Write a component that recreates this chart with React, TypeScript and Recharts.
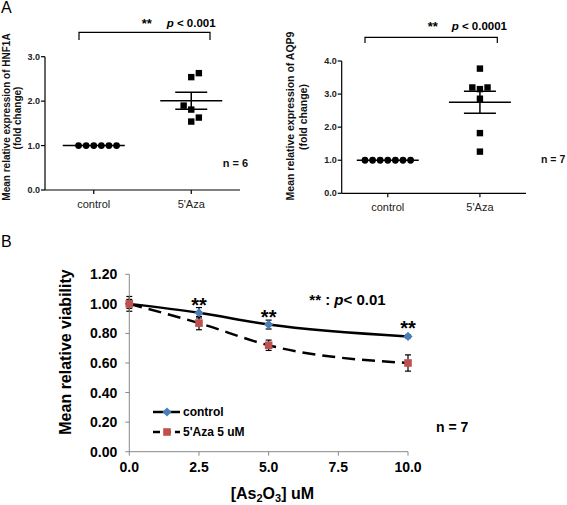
import React from 'react';
import {
    ScatterChart,
    Scatter,
    LineChart,
    Line,
    XAxis,
    YAxis,
    ErrorBar,
    LabelList,
    Legend
} from 'recharts';

// panel A: fold change per sample
const groups = ['control', "5'Aza"];
const hnf1aControl = [1.0, 1.0, 1.0, 1.0, 1.0, 1.0];
const hnf1aAza = [2.54, 2.63, 1.9, 1.81, 1.54, 1.63];
const aqp9Control = [1.0, 1.0, 1.0, 1.0, 1.0, 1.0, 1.0];
const aqp9Aza = [3.77, 3.2, 3.15, 3.2, 2.86, 1.82, 1.26];

// panel B: viability vs As2O3 dose
const doses = [0, 2.5, 5, 10];
const doseTicks = [0, 2.5, 5, 7.5, 10];
const controlViability = [1.0, 0.94, 0.86, 0.78];
const controlSem = [0.05, 0.035, 0.03, 0.01];
const azaViability = [1.0, 0.87, 0.72, 0.6];
const azaSem = [0.03, 0.045, 0.035, 0.055];
const significance = ['', '**', '**', '**'];
const viabilityTicks = [0, 0.2, 0.4, 0.6, 0.8, 1.0, 1.2];
const seriesOrder = ['control', 'aza'];

const FONT = '"Liberation Sans", Arial, sans-serif';
const BLUE = '#4a7ebb';
const RED = '#c0504d';

const mean = (v: number[]) => v.reduce((a, b) => a + b, 0) / v.length;
const sem = (v: number[]) => {
    const m = mean(v);
    const sd = Math.sqrt(v.reduce((a, b) => a + (b - m) ** 2, 0) / (v.length - 1));
    return sd / Math.sqrt(v.length);
};

// simple beeswarm: points that would overlap get pushed sideways, alternating sides
const swarm = (values: number[], center: number, pxPerY: number, stepX: number, size: number) => {
    const sorted = [...values].sort((a, b) => a - b);
    const placed: { v: number; k: number }[] = [];
    let side = 1;
    sorted.forEach((v) => {
        const free = (k: number) => !placed.some(p => p.k === k && Math.abs(p.v - v) * pxPerY < size);
        let k = 0;
        if (!free(0)) {
            for (let d = 1; d < 12; d++) {
                if (free(side * d)) { k = side * d; break; }
                if (free(-side * d)) { k = -side * d; break; }
            }
            side = -side;
        }
        placed.push({ v, k });
    });
    return placed.map(p => ({ x: center + p.k * stepX, y: p.v }));
};

interface ScatterPanelProps {
    left: number;
    width: number;
    height: number;
    yAxisWidth: number;
    marginTop: number;
    marginRight: number;
    xAxisHeight: number;
    yMax: number;
    control: number[];
    treated: number[];
}

const ScatterPanel: React.FC<ScatterPanelProps> = ({
    left, width, height, yAxisWidth, marginTop, marginRight, xAxisHeight, yMax, control, treated
}) => {
    const plotW = width - yAxisWidth - marginRight;
    const plotH = height - marginTop - xAxisHeight;
    const pxPerY = plotH / yMax;
    const step = 7.6 * 2 / plotW;

    const controlPts = swarm(control, 1, pxPerY, step, 6.5);
    const treatedPts = swarm(treated, 2, pxPerY, step, 6.5);
    const summary = [
        { x: 1, y: mean(control), err: sem(control) },
        { x: 2, y: mean(treated), err: sem(treated) }
    ];
    const yTicks = Array.from({ length: yMax + 1 }, (_, i) => i);

    return (
        <div style={{ position: 'absolute', left, top: 0 }}>
            <ScatterChart
                width={width}
                height={height}
                margin={{ top: marginTop, right: marginRight, bottom: 0, left: 0 }}
            >
                <XAxis
                    type="number"
                    dataKey="x"
                    domain={[0.5, 2.5]}
                    ticks={[1, 2]}
                    interval={0}
                    allowDataOverflow
                    tickFormatter={(v) => groups[v - 1]}
                    height={xAxisHeight}
                    stroke="#000"
                    strokeWidth={1.2}
                    tickSize={4}
                    tickMargin={6}
                    tick={{ fill: '#222', fontSize: 11 }}
                />
                <YAxis
                    type="number"
                    dataKey="y"
                    domain={[0, yMax]}
                    ticks={yTicks}
                    width={yAxisWidth}
                    stroke="#000"
                    strokeWidth={1.2}
                    tickSize={4}
                    tickMargin={1}
                    tickFormatter={(v) => v.toFixed(1)}
                    tick={{ fill: '#222', fontSize: 9, fontWeight: 'bold' }}
                />
                <Scatter
                    data={controlPts}
                    isAnimationActive={false}
                    shape={(p: any) => <circle cx={p.cx} cy={p.cy} r={3.4} fill="#000" />}
                />
                <Scatter
                    data={treatedPts}
                    isAnimationActive={false}
                    shape={(p: any) => <rect x={p.cx - 3.2} y={p.cy - 3.2} width={6.4} height={6.4} fill="#000" />}
                />
                <Scatter
                    data={summary}
                    isAnimationActive={false}
                    shape={(p: any) => (
                        <line x1={p.cx - 31} x2={p.cx + 31} y1={p.cy} y2={p.cy} stroke="#000" strokeWidth={1.5} />
                    )}
                >
                    <ErrorBar dataKey="err" direction="y" width={16} stroke="#000" strokeWidth={1.5} />
                </Scatter>
            </ScatterChart>
        </div>
    );
};

const viabilityRows = doses.map((d, i) => ({
    dose: d,
    control: controlViability[i],
    controlSem: controlSem[i],
    aza: azaViability[i],
    azaSem: azaSem[i],
    sig: significance[i]
}));

const Diamond = (p: any) => {
    const r = 4.6;
    return (
        <polygon
            key={`d-${p.index}`}
            points={`${p.cx},${p.cy - r} ${p.cx + r},${p.cy} ${p.cx},${p.cy + r} ${p.cx - r},${p.cy}`}
            fill={BLUE}
        />
    );
};

const Square = (p: any) => (
    <rect key={`s-${p.index}`} x={p.cx - 3.8} y={p.cy - 3.8} width={7.6} height={7.6} fill={RED} />
);

const renderLegend = (props: any) => {
    const items = [...(props.payload || [])].sort(
        (a: any, b: any) => seriesOrder.indexOf(a.dataKey) - seriesOrder.indexOf(b.dataKey)
    );
    return (
        <div style={{ display: 'flex', flexDirection: 'column', fontFamily: FONT }}>
            {items.map((entry: any) => {
                const dashed = entry.dataKey === 'aza';
                return (
                    <div key={entry.dataKey} style={{ display: 'flex', alignItems: 'center', height: 20 }}>
                        <svg width={30} height={20}>
                            <line
                                x1={1} x2={28} y1={10} y2={10}
                                stroke="#000" strokeWidth={2.5}
                                strokeDasharray={dashed ? '7 4' : undefined}
                            />
                            {dashed
                                ? <rect x={11.2} y={6.2} width={7.6} height={7.6} fill={RED} />
                                : <polygon points="15,5.4 19.6,10 15,14.6 10.4,10" fill={BLUE} />}
                        </svg>
                        <span style={{ fontSize: 12, fontWeight: 'bold', color: '#000', marginLeft: 1 }}>{entry.value}</span>
                    </div>
                );
            })}
        </div>
    );
};

const ViabilityPanel: React.FC = () => (
    <div style={{ position: 'absolute', left: 0, top: 230 }}>
        <LineChart
            width={567}
            height={275}
            data={viabilityRows}
            margin={{ top: 44.3, right: 159, bottom: 0, left: 0 }}
        >
            <XAxis
                type="number"
                dataKey="dose"
                domain={[0, 10]}
                ticks={doseTicks}
                interval={0}
                tickFormatter={(v) => v.toFixed(1)}
                height={53.3}
                stroke="#888"
                tickSize={4}
                tickMargin={6}
                tick={{ fill: '#000', fontSize: 14, fontWeight: 'bold' }}
            />
            <YAxis
                type="number"
                domain={[0, 1.2]}
                ticks={viabilityTicks}
                interval={0}
                tickFormatter={(v) => v.toFixed(2)}
                width={129.3}
                stroke="#888"
                tickSize={4}
                tickMargin={8}
                tick={{ fill: '#000', fontSize: 14, fontWeight: 'bold' }}
            />
            <Legend
                layout="vertical"
                align="center"
                verticalAlign="middle"
                content={renderLegend}
                wrapperStyle={{ left: 152, top: 171.7, width: 'auto' }}
            />
            <Line
                name="control"
                dataKey="control"
                type="monotone"
                stroke="#000"
                strokeWidth={2.5}
                dot={Diamond}
                activeDot={false}
                isAnimationActive={false}
            >
                <ErrorBar dataKey="controlSem" width={3} stroke="#000" strokeWidth={1.2} />
                <LabelList
                    dataKey="sig"
                    position="top"
                    offset={1}
                    style={{ fontSize: 20, fontWeight: 'bold', fill: '#000' }}
                />
            </Line>
            <Line
                name="5'Aza 5 uM"
                dataKey="aza"
                type="monotone"
                stroke="#000"
                strokeWidth={2.5}
                strokeDasharray="13 7"
                dot={Square}
                activeDot={false}
                isAnimationActive={false}
            >
                <ErrorBar dataKey="azaSem" width={3} stroke="#000" strokeWidth={1.2} />
            </Line>
        </LineChart>
    </div>
);

const Annotations: React.FC = () => (
    <svg
        width={567}
        height={505}
        style={{ position: 'absolute', left: 0, top: 0, pointerEvents: 'none', fontFamily: FONT }}
    >
        <text x={1} y={12.7} fontSize={16}>A</text>
        <text x={1} y={246.7} fontSize={16}>B</text>

        {/* HNF1A panel */}
        <g fontWeight="bold" fontSize={10} textAnchor="middle" fill="#111">
            <text transform="translate(9.5,117) rotate(-90)">Mean relative expression of HNF1A</text>
            <text transform="translate(20.5,118) rotate(-90)">(fold change)</text>
        </g>
        <polyline points="79,40 79,32.3 210,32.3 210,40" fill="none" stroke="#000" strokeWidth={1.2} />
        <text x={141.7} y={27.5} fontSize={13} fontWeight="bold">**</text>
        <text x={166.7} y={26.8} fontSize={11.5} fontWeight="bold">
            <tspan fontStyle="italic">p</tspan> &lt; 0.001
        </text>
        <text x={222.7} y={167} fontSize={11} fontWeight="bold" fill="#111">n = 6</text>

        {/* AQP9 panel */}
        <g fontWeight="bold" fontSize={10.5} textAnchor="middle" fill="#111">
            <text transform="translate(293.5,116) rotate(-90)">Mean relative expression of AQP9</text>
            <text transform="translate(306.5,117) rotate(-90)">(fold change)</text>
        </g>
        <polyline points="365,43 365,37.3 497.3,37.3 497.3,43" fill="none" stroke="#000" strokeWidth={1.2} />
        <text x={427.7} y={30.5} fontSize={13} fontWeight="bold">**</text>
        <text x={451.7} y={29.8} fontSize={11.5} fontWeight="bold">
            <tspan fontStyle="italic">p</tspan> &lt; 0.0001
        </text>
        <text x={541} y={163} fontSize={10.5} fontWeight="bold" fill="#111">n = 7</text>

        {/* viability panel */}
        <text transform="translate(70.8,352) rotate(-90)" textAnchor="middle" fontSize={16} fontWeight="bold">
            Mean relative viability
        </text>
        <text x={230.7} y={499} fontSize={16} fontWeight="bold">
            [As<tspan fontSize={11} dy={3}>2</tspan>
            <tspan dy={-3}>O</tspan>
            <tspan fontSize={11} dy={3}>3</tspan>
            <tspan dy={-3}>] uM</tspan>
        </text>
        <text x={309.3} y={304.5} fontSize={15} fontWeight="bold">
            ** : <tspan fontStyle="italic">p</tspan>&lt; 0.01
        </text>
        <text x={436} y={432} fontSize={14} fontWeight="bold">n = 7</text>
    </svg>
);

const App: React.FC = () => (
    <>
        <style>{`body { margin: 0; }`}</style>
        <div style={{ position: 'relative', width: 567, height: 505, background: '#fff', fontFamily: FONT, overflow: 'hidden' }}>
            <ScatterPanel
                left={0}
                width={280}
                height={225}
                yAxisWidth={45}
                marginTop={56.7}
                marginRight={40}
                xAxisHeight={35}
                yMax={3}
                control={hnf1aControl}
                treated={hnf1aAza}
            />
            <ScatterPanel
                left={280}
                width={287}
                height={225}
                yAxisWidth={61.7}
                marginTop={61}
                marginRight={41}
                xAxisHeight={31.7}
                yMax={4}
                control={aqp9Control}
                treated={aqp9Aza}
            />
            <ViabilityPanel />
            <Annotations />
        </div>
    </>
);

export default App;
